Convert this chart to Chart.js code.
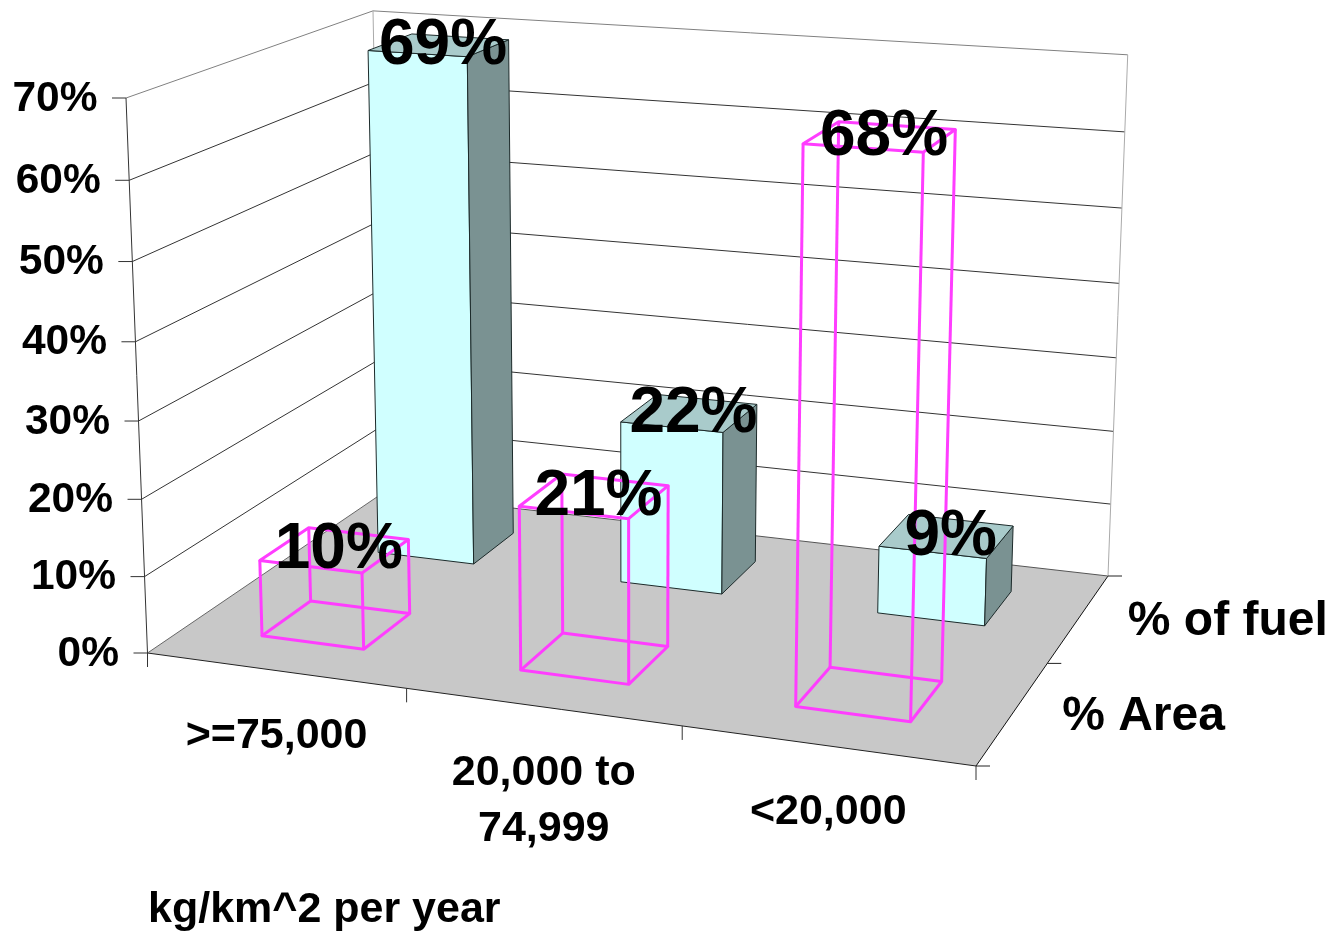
<!DOCTYPE html>
<html>
<head>
<meta charset="utf-8">
<title>Fuel use and area by emission density</title>
<script src="https://cdn.jsdelivr.net/npm/chart.js@4"></script>
<style>
    html, body { margin: 0; padding: 0; background: #fff; }
    canvas { display: block; }
</style>
</head>
<body>
<canvas id="densityChart" width="1335" height="931"></canvas>
<script>
const categories = [">=75,000", ["20,000 to", "74,999"], "<20,000"];
const areaPct = [10, 21, 68];
const fuelPct = [69, 22, 9];
const seriesNames = ["% Area", "% of fuel"];
const axisTitle = "kg/km^2 per year";
const yMax = 70;
const yStep = 10;

// corners of the 3D frame on the page
const frame = {
    floorFrontLeft: [147.5, 653], floorFrontRight: [976, 766],
    floorBackRight: [1108, 576], floorBackLeft: [382.5, 493.2],
    topFrontLeft: [126, 98], topBackLeft: [373, 9.5], topBackRight: [1129, 52]
};
const depthFill = 0.4;
const font = size => "bold " + size + "px 'Liberation Sans', Arial, sans-serif";

// perspective matrix: floor homography plus a column for the height axis
function buildProjection(f) {
    const [x0, y0] = f.floorFrontLeft, [x1, y1] = f.floorFrontRight;
    const [x2, y2] = f.floorBackRight, [x3, y3] = f.floorBackLeft;
    const dx1 = x1 - x2, dx2 = x3 - x2, sx = x0 - x1 + x2 - x3;
    const dy1 = y1 - y2, dy2 = y3 - y2, sy = y0 - y1 + y2 - y3;
    const den = dx1 * dy2 - dx2 * dy1;
    const g = (sx * dy2 - dx2 * sy) / den;
    const h = (dx1 * sy - sx * dy1) / den;
    const a = x1 - x0 + g * x1, b = x3 - x0 + h * x3;
    const d = y1 - y0 + g * y1, e = y3 - y0 + h * y3;
    const [ex, ey] = f.topFrontLeft, fx = f.topBackLeft[0];
    const k = (fx * h - b) / (ex - fx);
    const a3 = ex * k - x0, b3 = ey * k - y0, c3 = k - 1;
    return (u, v, w) => {
        const q = g * u + h * v + c3 * w + 1;
        return [(a * u + b * v + a3 * w + x0) / q, (d * u + e * v + b3 * w + y0) / q];
    };
}
const project = buildProjection(frame);

function poly(ctx, pts, fill, stroke, lw) {
    ctx.beginPath();
    pts.forEach((p, i) => i ? ctx.lineTo(p[0], p[1]) : ctx.moveTo(p[0], p[1]));
    ctx.closePath();
    if (fill) { ctx.fillStyle = fill; ctx.fill(); }
    if (stroke) { ctx.strokeStyle = stroke; ctx.lineWidth = lw || 1; ctx.lineJoin = "round"; ctx.stroke(); }
}

function line(ctx, p, q, color, lw) {
    ctx.beginPath();
    ctx.moveTo(p[0], p[1]);
    ctx.lineTo(q[0], q[1]);
    ctx.strokeStyle = color;
    ctx.lineWidth = lw || 1;
    ctx.stroke();
}

function label(ctx, text, x, y, size, align) {
    ctx.font = font(size);
    ctx.fillStyle = "#000";
    ctx.textAlign = align || "center";
    ctx.textBaseline = "middle";
    ctx.fillText(text, x, y);
}

const threeD = {
    id: "threeD",
    beforeDatasetsDraw(chart) {
        const ctx = chart.ctx, yScale = chart.scales.y;
        const toW = v => (yScale.bottom - yScale.getPixelForValue(v)) / yScale.height;

        // floor
        poly(ctx, [project(0, 0, 0), project(1, 0, 0), project(1, 1, 0), project(0, 1, 0)], "#c8c8c8");
        line(ctx, project(0, 0, 0), project(1, 0, 0), "#222");
        line(ctx, project(1, 0, 0), project(1, 1, 0), "#111");
        line(ctx, project(0, 0, 0), project(0, 1, 0), "#666");
        line(ctx, project(0, 1, 0), project(1, 1, 0), "#555");

        // walls and gridlines
        yScale.ticks.forEach(t => {
            const w = toW(t.value), top = t.value === yMax;
            const color = top ? "#808080" : "#333";
            const p = project(0, 0, w), back = project(0, 1, w);
            if (t.value > 0) {
                line(ctx, p, back, color);
                line(ctx, back, project(1, 1, w), color);
            }
            line(ctx, [p[0] - 14, p[1]], p, "#333");
            label(ctx, t.label, p[0] - 28.5, p[1] + 1, 42.5, "right");
        });
        line(ctx, project(0, 0, 0), project(0, 0, 1), "#333");
        line(ctx, project(0, 1, 0), project(0, 1, 1), "#aaa");
        line(ctx, project(1, 1, 0), project(1, 1, 1), "#aaa");

        // ticks and labels on the floor edges
        const n = categories.length;
        for (let i = 0; i <= n; i++) {
            const p = project(i / n, 0, 0);
            line(ctx, p, [p[0], p[1] + 14], "#333");
        }
        for (let i = 0; i <= seriesNames.length; i++) {
            const p = project(1, i / seriesNames.length, 0);
            line(ctx, p, [p[0] + 14, p[1]], "#222");
        }
        categories.forEach((c, i) => {
            const p = project((i + 0.5) / n, 0, 0);
            const lines = [].concat(c);
            lines.forEach((txt, j) => label(ctx, txt, p[0] + 1.5, p[1] + 66 + j * 56, 43));
        });
        seriesNames.forEach((s, i) => {
            const p = project(1, (i + 0.5) / seriesNames.length, 0);
            label(ctx, s, p[0] + 49, p[1] + 4, 48, "left");
        });
        label(ctx, axisTitle, 148, 910, 43, "left");
    },
    afterDatasetsDraw(chart) {
        const ctx = chart.ctx, area = chart.chartArea;
        const box = (el, ds) => {
            const u0 = (el.x - el.width / 2 - area.left) / area.width;
            const u1 = (el.x + el.width / 2 - area.left) / area.width;
            const vc = (ds + 0.5) / chart.data.datasets.length;
            const half = depthFill / chart.data.datasets.length / 2;
            const v0 = vc - half, v1 = vc + half;
            const w = (el.base - el.y) / area.height;
            return { u0, u1, v0, v1, w, vc, uc: (u0 + u1) / 2 };
        };

        // solid columns for the rear series
        chart.getDatasetMeta(1).data.forEach(el => {
            const b = box(el, 1);
            const a = (u, v, h) => project(u, v, h ? b.w : 0);
            poly(ctx, [a(b.u0, b.v0, 0), a(b.u1, b.v0, 0), a(b.u1, b.v0, 1), a(b.u0, b.v0, 1)], "#d0ffff", "#1c2a2a");
            poly(ctx, [a(b.u1, b.v0, 0), a(b.u1, b.v1, 0), a(b.u1, b.v1, 1), a(b.u1, b.v0, 1)], "#7a9292", "#1c2a2a");
            poly(ctx, [a(b.u0, b.v0, 1), a(b.u1, b.v0, 1), a(b.u1, b.v1, 1), a(b.u0, b.v1, 1)], "#a9cbcb", "#1c2a2a");
        });

        // wireframes for the front series
        const pink = "#ff3dff";
        chart.getDatasetMeta(0).data.forEach(el => {
            const b = box(el, 0);
            const a = (u, v, h) => project(u, v, h ? b.w : 0);
            [0, 1].forEach(h => poly(ctx, [a(b.u0, b.v0, h), a(b.u1, b.v0, h), a(b.u1, b.v1, h), a(b.u0, b.v1, h)], null, pink, 3));
            [[b.u0, b.v0], [b.u1, b.v0], [b.u1, b.v1], [b.u0, b.v1]].forEach(c => line(ctx, a(c[0], c[1], 0), a(c[0], c[1], 1), pink, 3));
        });

        // value labels just over each top face
        chart.data.datasets.forEach((ds, d) => {
            chart.getDatasetMeta(d).data.forEach((el, i) => {
                const b = box(el, d);
                const p = project(b.uc, b.vc, b.w);
                label(ctx, ds.data[i] + "%", p[0] + 4, p[1] + 1, 64);
            });
        });
    }
};

new Chart(document.getElementById("densityChart"), {
    type: "bar",
    data: {
        labels: categories,
        datasets: [
            { label: seriesNames[0], data: areaPct, backgroundColor: "transparent", grouped: false, barPercentage: 0.4, categoryPercentage: 1 },
            { label: seriesNames[1], data: fuelPct, backgroundColor: "transparent", grouped: false, barPercentage: 0.4, categoryPercentage: 1 }
        ]
    },
    options: {
        responsive: false,
        animation: false,
        layout: { padding: 0 },
        scales: {
            x: { display: false },
            y: {
                display: false,
                min: 0,
                max: yMax,
                ticks: { stepSize: yStep, callback: v => v + "%" }
            }
        },
        plugins: { legend: { display: false }, tooltip: { enabled: false } }
    },
    plugins: [threeD]
});
</script>
</body>
</html>
